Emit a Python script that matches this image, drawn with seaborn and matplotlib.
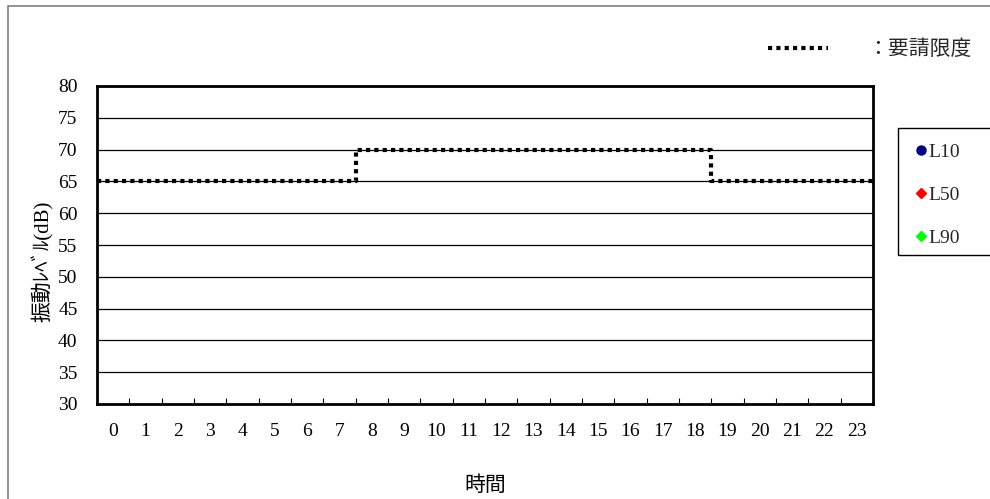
# Vibration level chart (hourly) with request limit line
import numpy as np
import seaborn as sns
import matplotlib.pyplot as plt
from matplotlib.patches import Rectangle

# Data
hours = list(range(24))
limit = [65] * 8 + [70] * 11 + [65] * 5   # 要請限度 (dB)
L10 = [np.nan] * 24
L50 = [np.nan] * 24
L90 = [np.nan] * 24

sns.set_theme(style="white")
plt.rcParams['font.family'] = ['Liberation Serif', 'Noto Sans CJK JP', 'DejaVu Sans']

fig = plt.figure(figsize=(9.9, 4.99), dpi=100)
ax = fig.add_axes([97 / 990, 1 - 404 / 499, 776 / 990, 318 / 499])

# Step line for the limit, extended to the plot edges
x_step = np.r_[hours[0] - 0.5, hours, hours[-1] + 0.5]
y_step = np.r_[limit[0], limit, limit[-1]]
sns.lineplot(x=x_step, y=y_step, ax=ax, color='black', linewidth=3,
             linestyle=(0, (1, 1)), drawstyle='steps-mid', label='：要請限度',
             legend=False, zorder=3)

# Measurement series (no values)
h10, = ax.plot(hours, L10, marker='o', linestyle='none', color='#000080', markersize=6.5, label='L10')
h50, = ax.plot(hours, L50, marker='D', linestyle='none', color='#ff0000', markersize=5, label='L50')
h90, = ax.plot(hours, L90, marker='D', linestyle='none', color='#00ff00', markersize=5, label='L90')

ax.set_xlim(-0.5, 23.5)
ax.set_ylim(30, 80)
ax.set_yticks(range(30, 81, 5))
ax.set_xticks(hours)
ax.set_xticklabels([str(h) for h in hours])
ax.set_xticks(np.arange(-0.5, 24, 1), minor=True)
ax.yaxis.grid(True, color='black', linewidth=0.9)
ax.xaxis.grid(False)
for s in ax.spines.values():
    s.set_color('black')
    s.set_linewidth(2)

ax.tick_params(axis='y', length=0, pad=14, labelsize=14, colors='black')
ax.tick_params(axis='x', which='major', length=0, pad=14, labelsize=14, colors='black')
ax.tick_params(axis='x', which='minor', bottom=True, direction='in', length=4, width=0.8, color='black')

ax.set_ylabel('振動ﾚﾍﾞﾙ(dB)', fontsize=15, color='black')
ax.yaxis.set_label_coords(-0.056, 0.45)
ax.set_xlabel('時間', fontsize=15, labelpad=26, color='black')

# Legend for the limit line (top right)
lim_line = ax.get_lines()[0]
fig.legend(handles=[lim_line], labels=['：要請限度'], loc='center left',
           bbox_to_anchor=(749 / 990, 1 - 50 / 499), frameon=False, fontsize=15,
           handlelength=2.9, handletextpad=1.85)

# Series legend box on the right
fig.add_artist(Rectangle((898 / 990, 1 - 255 / 499), 0.2, 127 / 499, transform=fig.transFigure,
                         fill=False, edgecolor='black', linewidth=1, clip_on=False))
fig.legend(handles=[h10, h50, h90], labels=['L10', 'L50', 'L90'], loc='upper left',
           bbox_to_anchor=(898 / 990, 1 - 126 / 499), frameon=False, fontsize=14,
           handlelength=0.6, handletextpad=0.05, labelspacing=1.3)

# Outer chart border
fig.add_artist(Rectangle((8 / 990, -0.1), 1.2, 1.1 - 6 / 499, transform=fig.transFigure,
                         fill=False, edgecolor='#808080', linewidth=1.2, clip_on=False))

fig.savefig('out.png', dpi=100)
